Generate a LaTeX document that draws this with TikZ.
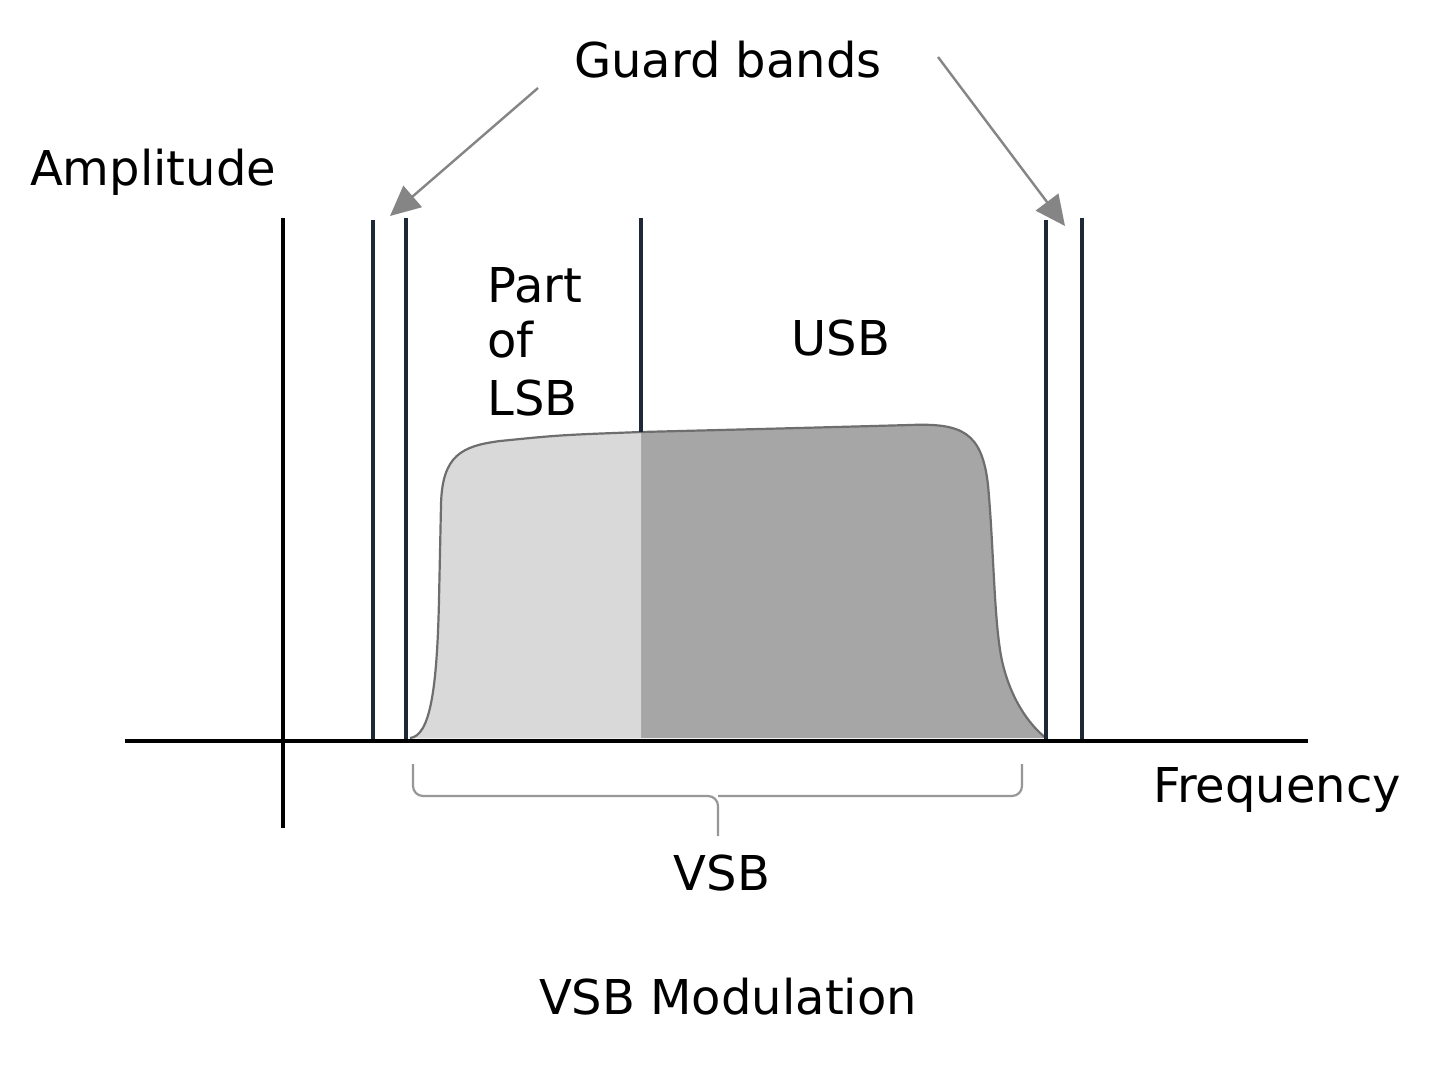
\documentclass[tikz,border=0pt]{standalone}
\usepackage{fontspec}
\setmainfont{DejaVu Sans}
\usetikzlibrary{arrows.meta}
\definecolor{lightband}{HTML}{D9D9D9}
\definecolor{darkband}{HTML}{A6A6A6}
\definecolor{outl}{HTML}{6E6E6E}
\definecolor{navy}{HTML}{1E2836}
\definecolor{arrowgrey}{HTML}{858585}
\begin{document}
\begin{tikzpicture}[x=0.5pt,y=-0.5pt,
  lbl/.style={inner sep=0pt,font=\fontsize{24}{29}\selectfont,text=black},
  axisline/.style={line width=1.7pt,black},
  guardline/.style={line width=1.8pt,navy},
  guardarrow/.style={line width=1.2pt,arrowgrey,-{Triangle[length=15pt,width=14pt]}},
  bracestyle/.style={line width=1.1pt,arrowgrey!85,rounded corners=5pt}]
\useasboundingbox (0,0) rectangle (1440,1071);
\fill[white] (0,0) rectangle (1440,1071);
% spectrum shape
\def\shapepath{(410,738) .. controls (430,736) and (437,690) .. (439,600)
  -- (441,505) .. controls (442,455) and (462,446) .. (500,441)
  .. controls (560,435) .. (641,432)
  .. controls (800,428) .. (910,425)
  .. controls (962,423) and (982,432) .. (988,485)
  .. controls (994,550) and (994,630) .. (1003,665)
  .. controls (1013,705) and (1033,728) .. (1046,738) -- cycle}
\fill[darkband] \shapepath;
\begin{scope}
  \clip (300,300) rectangle (641,745);
  \fill[lightband] \shapepath;
\end{scope}
\draw[outl,line width=1.1pt,line join=round] (410,738) .. controls (430,736) and (437,690) .. (439,600)
  -- (441,505) .. controls (442,455) and (462,446) .. (500,441)
  .. controls (560,435) .. (641,432)
  .. controls (800,428) .. (910,425)
  .. controls (962,423) and (982,432) .. (988,485)
  .. controls (994,550) and (994,630) .. (1003,665)
  .. controls (1013,705) and (1033,728) .. (1046,738);
% axes
\coordinate (xl) at (125,741);
\coordinate (xr) at (1308,741);
\coordinate (yt) at (283,218);
\coordinate (yb) at (283,828);
\draw[axisline] (xl) -- (xr);
\draw[axisline] (yt) -- (yb);
% guard band lines
\coordinate (g1t) at (373,220); \coordinate (g1b) at (373,739);
\coordinate (g2t) at (406,218); \coordinate (g2b) at (406,739);
\coordinate (g3t) at (1046,220); \coordinate (g3b) at (1046,739);
\coordinate (g4t) at (1082,218); \coordinate (g4b) at (1082,739);
\coordinate (ct) at (641,218); \coordinate (cb) at (641,432);
\draw[guardline] (g1t) -- (g1b);
\draw[guardline] (g2t) -- (g2b);
\draw[guardline] (g3t) -- (g3b);
\draw[guardline] (g4t) -- (g4b);
\draw[guardline] (ct) -- (cb);
% labels
\node[lbl] (gb) at (728,60) {Guard bands};
\node[lbl] (amp) at (153,172) {Amplitude};
\node[lbl,anchor=west] (part) at (487,285) {Part};
\node[lbl,anchor=west] (of) at (487,340) {of};
\node[lbl,anchor=west] (lsb) at (487,398) {LSB};
\node[lbl] (usb) at (841,338) {USB};
\node[lbl] (freq) at (1277,790) {Frequency};
\node[lbl] (vsb) at (722,873) {VSB};
\node[lbl] (title) at (728,997) {VSB Modulation};
% guard band arrows
\coordinate (a1s) at (538,88);
\coordinate (a1e) at (390,216);
\coordinate (a2s) at (938,57);
\coordinate (a2e) at (1065,226);
\draw[guardarrow] (a1s) -- (a1e);
\draw[guardarrow] (a2s) -- (a2e);
% brace
\coordinate (bl) at (413,764);
\coordinate (br) at (1022,764);
\coordinate (bm) at (718,796);
\coordinate (bs) at (718,836);
\draw[bracestyle] (bl) |- (bm) -- (bs);
\draw[bracestyle] (br) |- (bm);
\end{tikzpicture}
\end{document}
